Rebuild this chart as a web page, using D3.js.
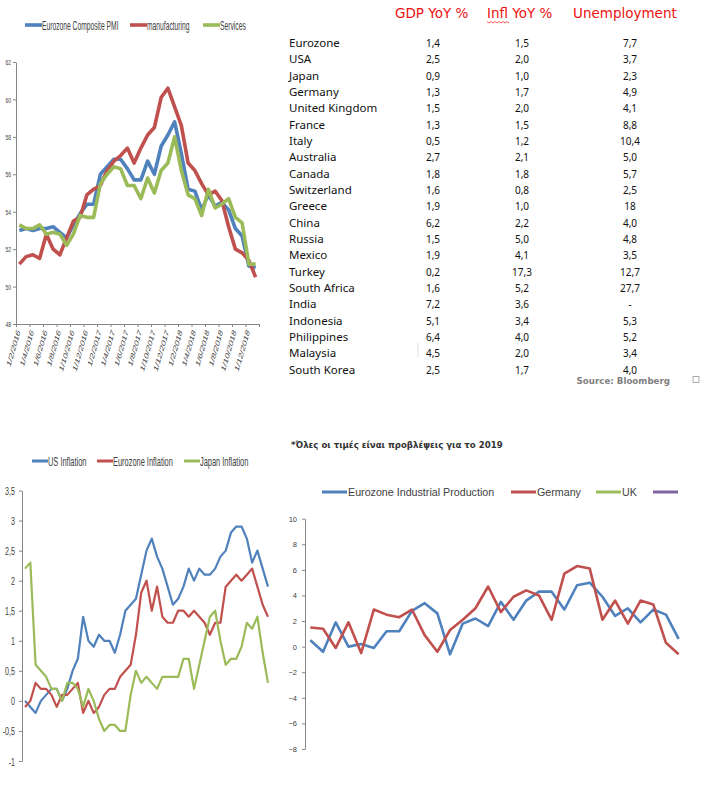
<!DOCTYPE html>
<html>
<head>
<meta charset="utf-8">
<script src="https://cdn.jsdelivr.net/npm/d3@7"></script>
<style>
  html, body { margin: 0; padding: 0; background: #fff; }
  svg { display: block; }
</style>
</head>
<body>
<svg id="chart" width="703" height="788"></svg>
<script>
// ---------------- data ----------------
// Eurozone PMI, monthly (top left)
var pmiDates = ["1/2/2016", "1/3/2016", "1/4/2016", "1/5/2016", "1/6/2016", "1/7/2016", "1/8/2016", "1/9/2016",
    "1/10/2016", "1/11/2016", "1/12/2016", "1/1/2017", "1/2/2017", "1/3/2017", "1/4/2017", "1/5/2017", "1/6/2017",
    "1/7/2017", "1/8/2017", "1/9/2017", "1/10/2017", "1/11/2017", "1/12/2017", "1/1/2018", "1/2/2018", "1/3/2018",
    "1/4/2018", "1/5/2018", "1/6/2018", "1/7/2018", "1/8/2018", "1/9/2018", "1/10/2018", "1/11/2018", "1/12/2018", "1/1/2019"];
var pmiComposite = [53.0, 53.1, 53.0, 53.1, 53.1, 53.2, 52.9, 52.6, 53.3, 53.9, 54.4, 54.4, 56.0, 56.4, 56.8, 56.8, 56.3, 55.7,
    55.7, 56.7, 56.0, 57.5, 58.1, 58.8, 57.1, 55.2, 55.1, 54.1, 54.9, 54.3, 54.5, 54.1, 53.1, 52.7, 51.1, 51.0];
var pmiManufacturing = [51.2, 51.6, 51.7, 51.5, 52.8, 52.0, 51.7, 52.6, 53.5, 53.7, 54.9, 55.2, 55.4, 56.2, 56.7, 57.0, 57.4, 56.6,
    57.4, 58.1, 58.5, 60.1, 60.6, 59.6, 58.6, 56.6, 56.2, 55.5, 54.9, 55.1, 54.6, 53.2, 52.0, 51.8, 51.4, 50.5];
var pmiServices = [53.3, 53.1, 53.1, 53.3, 52.8, 52.9, 52.8, 52.2, 52.8, 53.8, 53.7, 53.7, 55.5, 56.0, 56.4, 56.3, 55.4, 55.4,
    54.7, 55.8, 55.0, 56.2, 56.6, 58.0, 56.2, 54.9, 54.7, 53.8, 55.2, 54.2, 54.4, 54.7, 53.7, 53.4, 51.2, 51.2];
var pmiTicks = [48, 50, 52, 54, 56, 58, 60, 62];
var pmiLegend = ["Eurozone Composite PMI", "manufacturing", "Services"];

// forecast table (top right)
var tableHeaders = ["GDP YoY %", "Infl YoY %", "Unemployment"];
var countries = ["Eurozone", "USA", "Japan", "Germany", "United Kingdom", "France", "Italy", "Australia", "Canada",
    "Switzerland", "Greece", "China", "Russia", "Mexico", "Turkey", "South Africa", "India", "Indonesia",
    "Philippines", "Malaysia", "South Korea"];
var gdpYoY = ["1,4", "2,5", "0,9", "1,3", "1,5", "1,3", "0,5", "2,7", "1,8", "1,6", "1,9", "6,2", "1,5", "1,9", "0,2",
    "1,6", "7,2", "5,1", "6,4", "4,5", "2,5"];
var inflYoY = ["1,5", "2,0", "1,0", "1,7", "2,0", "1,5", "1,2", "2,1", "1,8", "0,8", "1,0", "2,2", "5,0", "4,1", "17,3",
    "5,2", "3,6", "3,4", "4,0", "2,0", "1,7"];
var unemployment = ["7,7", "3,7", "2,3", "4,9", "4,1", "8,8", "10,4", "5,0", "5,7", "2,5", "18", "4,0", "4,8", "3,5",
    "12,7", "27,7", "-", "5,3", "5,2", "3,4", "4,0"];

// CPI YoY, monthly (bottom left)
var usInflation = [0.0, -0.1, -0.2, 0.0, 0.1, 0.2, 0.2, 0.0, 0.2, 0.5, 0.7, 1.4, 1.0, 0.9, 1.1, 1.0, 1.0, 0.8, 1.1, 1.5,
    1.6, 1.7, 2.1, 2.5, 2.7, 2.4, 2.2, 1.9, 1.6, 1.7, 1.9, 2.2, 2.0, 2.2, 2.1, 2.1, 2.2, 2.4, 2.5, 2.8,
    2.9, 2.9, 2.7, 2.3, 2.5, 2.2, 1.9];
var ezInflation = [-0.1, 0.0, 0.3, 0.2, 0.2, 0.1, -0.1, 0.1, 0.1, 0.2, 0.3, -0.2, 0.0, -0.2, -0.1, 0.1, 0.2, 0.2, 0.4, 0.5,
    0.6, 1.1, 1.8, 2.0, 1.5, 1.9, 1.4, 1.3, 1.3, 1.5, 1.5, 1.4, 1.5, 1.4, 1.3, 1.1, 1.3, 1.3, 1.9, 2.0,
    2.1, 2.0, 2.1, 2.2, 1.9, 1.6, 1.4];
var jpInflation = [2.2, 2.3, 0.6, 0.5, 0.4, 0.2, 0.2, 0.0, 0.3, 0.3, 0.2, -0.1, 0.2, 0.0, -0.3, -0.5, -0.4, -0.4, -0.5, -0.5,
    0.1, 0.5, 0.3, 0.4, 0.3, 0.2, 0.4, 0.4, 0.4, 0.4, 0.7, 0.7, 0.2, 0.6, 1.0, 1.4, 1.5, 1.0, 0.6, 0.7,
    0.7, 0.9, 1.3, 1.2, 1.4, 0.8, 0.3];
var inflTicks = [-1, -0.5, 0, 0.5, 1, 1.5, 2, 2.5, 3, 3.5];
var inflLegend = ["US Inflation", "Eurozone Inflation", "Japan Inflation"];

// industrial production YoY (bottom right)
var ezIndustrial = [0.5, -0.4, 1.9, 0.0, 0.2, -0.1, 1.2, 1.2, 2.8, 3.4, 2.6, -0.6, 1.8, 2.2, 1.6, 3.5, 2.1, 3.6, 4.3, 4.3,
    2.9, 4.8, 5.0, 3.9, 2.4, 3.0, 1.9, 2.9, 2.5, 0.6];
var deIndustrial = [1.5, 1.4, -0.1, 1.9, -0.5, 2.9, 2.5, 2.3, 2.9, 0.9, -0.4, 1.3, 2.1, 3.0, 4.7, 2.7, 3.9, 4.4, 4.0, 2.1,
    5.7, 6.3, 6.1, 2.1, 3.6, 1.8, 3.6, 3.3, 0.3, -0.6];
var ipTicks = [-8, -6, -4, -2, 0, 2, 4, 6, 8, 10];
var ipLegend = ["Eurozone Industrial Production", "Germany", "UK", ""];

// ---------------- drawing ----------------
var svg = d3.select("#chart");
var SX = 0.62;   // the two left-hand charts are squeezed horizontally
var blue = "#4f81bd", red = "#c0504d", green = "#9bbb59", purple = "#8064a2", axisGrey = "#868686";
var arial = "'Liberation Sans', Arial, sans-serif";

function squeezedText(g, x, y, str, size, sx) {
    return g.append("text")
        .attr("transform", "translate(" + x + "," + y + ") scale(" + (sx || SX) + ",1)")
        .style("font-family", arial)
        .style("font-size", size + "px")
        .style("fill", "#404040")
        .text(str);
}

function legendLine(g, x, y, len, w, color) {
    g.append("line")
        .attr("x1", x).attr("x2", x + len)
        .attr("y1", y).attr("y2", y)
        .attr("stroke", color).attr("stroke-width", w);
}

function styleAxis(g) {
    g.select(".domain").attr("stroke", axisGrey);
    g.selectAll(".tick line").attr("stroke", axisGrey);
}

// ---------- top left: PMI ----------
var pmi = svg.append("g");
var yP = d3.scaleLinear().domain([48, 62]).range([324, 62]);
var xP = d3.scaleLinear().domain([0, pmiDates.length]).range([16, 259]);

var pmiX = pmi.append("g").attr("transform", "translate(0,324)")
    .call(d3.axisBottom(xP).tickValues(d3.range(0, pmiDates.length + 1, 2)).tickSize(3).tickSizeOuter(0)
        .tickFormat(function (i) { return i < pmiDates.length ? pmiDates[i] : ""; }));
styleAxis(pmiX);
pmiX.selectAll("text")
    .attr("x", 0).attr("y", 0).attr("dy", 0)
    .attr("text-anchor", "end")
    .attr("transform", "translate(4,8) scale(" + SX + ",1) rotate(-65)")
    .style("font-family", arial).style("font-size", "10px").style("fill", "#404040");

var pmiY = pmi.append("g").attr("transform", "translate(16,0)")
    .call(d3.axisLeft(yP).tickValues(pmiTicks).tickSize(3).tickSizeOuter(0));
styleAxis(pmiY);
pmiY.selectAll("text")
    .attr("x", -5 / SX).attr("dy", "0.32em")
    .attr("transform", "scale(" + SX + ",1)")
    .style("font-family", arial).style("font-size", "8px").style("fill", "#404040");

var pmiLine = d3.line()
    .x(function (d, i) { return xP(i + 0.5); })
    .y(function (d) { return yP(d); });

[[pmiComposite, blue], [pmiManufacturing, red], [pmiServices, green]].forEach(function (s) {
    pmi.append("path").datum(s[0])
        .attr("d", pmiLine)
        .attr("fill", "none").attr("stroke", s[1])
        .attr("stroke-width", 3.6).attr("stroke-linejoin", "round");
});

var pmiLegX = [25, 130, 203], pmiCol = [blue, red, green];
pmiLegend.forEach(function (t, i) {
    legendLine(pmi, pmiLegX[i], 25, 17, 3.6, pmiCol[i]);
    squeezedText(pmi, pmiLegX[i] + 17, 29.5, t, 12, 0.56);
});

// ---------- top right: table ----------
var tbl = svg.append("g");
var colX = [433, 522, 630];
var headX = [395, 487, 573];
var rowY = d3.scaleLinear().domain([0, countries.length - 1]).range([47, 373.6]);

tableHeaders.forEach(function (h, i) {
    tbl.append("text")
        .attr("x", headX[i]).attr("y", 18)
        .style("font-family", "'DejaVu Sans', Verdana, sans-serif")
        .style("font-size", "13.5px")
        .style("fill", "#ee1111")
        .text(h);
});
// spell-check squiggle under "Infl"
var sq = "M487,21.5";
for (var k = 1; k <= 11; k++) sq += " L" + (487 + k * 2) + "," + (k % 2 ? 23 : 21.5);
tbl.append("path").attr("d", sq).attr("fill", "none").attr("stroke", "#ee1111").attr("stroke-width", 0.7);

var rows = tbl.selectAll("g.row").data(countries).enter().append("g")
    .attr("class", "row")
    .attr("transform", function (d, i) { return "translate(0," + rowY(i) + ")"; })
    .style("font-family", "'Noto Sans', 'Open Sans', sans-serif")
    .style("fill", "#111");
rows.append("text").attr("x", 289).style("font-size", "11.5px").text(function (d) { return d; });
[gdpYoY, inflYoY, unemployment].forEach(function (col, c) {
    rows.append("text")
        .attr("x", colX[c]).attr("text-anchor", "middle")
        .style("font-size", "10px")
        .text(function (d, i) { return col[i]; });
});

tbl.append("text")
    .attr("x", 670).attr("y", 384).attr("text-anchor", "end")
    .style("font-family", "'DejaVu Sans', Verdana, sans-serif")
    .style("font-size", "8.7px").style("font-weight", "bold").style("fill", "#7f7f7f")
    .text("Source: Bloomberg");
tbl.append("rect").attr("x", 693).attr("y", 376.5).attr("width", 6).attr("height", 6)
    .attr("fill", "none").attr("stroke", "#9a9a9a").attr("stroke-width", 0.8);
tbl.append("line").attr("x1", 418).attr("x2", 418).attr("y1", 343).attr("y2", 357)
    .attr("stroke", "#dddddd").attr("stroke-width", 1);

svg.append("text")
    .attr("x", 291).attr("y", 448)
    .style("font-family", "'DejaVu Sans', Verdana, sans-serif")
    .style("font-size", "8.6px").style("font-weight", "bold").style("fill", "#333")
    .text("*Όλες οι τιμές είναι προβλέψεις για το 2019");

// ---------- bottom left: inflation ----------
var inf = svg.append("g");
var yI = d3.scaleLinear().domain([-1, 3.5]).range([761, 490.5]);
var xI = d3.scaleBand().domain(d3.range(usInflation.length)).range([22.4, 270.6]);

var infY = inf.append("g").attr("transform", "translate(22,0)")
    .call(d3.axisLeft(yI).tickValues(inflTicks).tickSize(3).tickSizeOuter(0)
        .tickFormat(function (v) { return String(v).replace(".", ","); }));
styleAxis(infY);
infY.selectAll("text")
    .attr("x", -7 / SX).attr("dy", "0.35em")
    .attr("transform", "scale(" + SX + ",1)")
    .style("font-family", arial).style("font-size", "11.5px").style("fill", "#404040");

var infLine = d3.line()
    .x(function (d, i) { return xI(i) + xI.bandwidth() / 2; })
    .y(function (d) { return yI(d); });

[[usInflation, blue], [ezInflation, red], [jpInflation, green]].forEach(function (s) {
    inf.append("path").datum(s[0])
        .attr("d", infLine)
        .attr("fill", "none").attr("stroke", s[1])
        .attr("stroke-width", 2.2).attr("stroke-linejoin", "round");
});

var infLegX = [32, 97, 184], infCol = [blue, red, green];
inflLegend.forEach(function (t, i) {
    legendLine(inf, infLegX[i], 461, 16, 3, infCol[i]);
    squeezedText(inf, infLegX[i] + 16, 465.5, t, 12);
});

// ---------- bottom right: industrial production ----------
var ip = svg.append("g");
var yR = d3.scaleLinear().domain([-8, 10]).range([749, 518.7]);
var xR = d3.scaleBand().domain(d3.range(ezIndustrial.length)).range([304, 685]);

var ipY = ip.append("g").attr("transform", "translate(305,0)")
    .call(d3.axisLeft(yR).tickValues(ipTicks).tickSize(3).tickSizeOuter(0));
styleAxis(ipY);
ipY.selectAll("text")
    .attr("x", -8)
    .style("font-family", arial).style("font-size", "7.5px").style("fill", "#404040");

var ipLine = d3.line()
    .x(function (d, i) { return xR(i) + xR.bandwidth() / 2; })
    .y(function (d) { return yR(d); });

[[ezIndustrial, blue], [deIndustrial, red]].forEach(function (s) {
    ip.append("path").datum(s[0])
        .attr("d", ipLine)
        .attr("fill", "none").attr("stroke", s[1])
        .attr("stroke-width", 2.6).attr("stroke-linejoin", "round");
});

var ipLegX = [322, 511, 596, 653], ipCol = [blue, red, green, purple];
ipLegend.forEach(function (t, i) {
    legendLine(ip, ipLegX[i], 492, 25, 3, ipCol[i]);
    ip.append("text")
        .attr("x", ipLegX[i] + 26).attr("y", 496)
        .style("font-family", arial).style("font-size", "10.7px").style("fill", "#404040")
        .text(t);
});
</script>
</body>
</html>
